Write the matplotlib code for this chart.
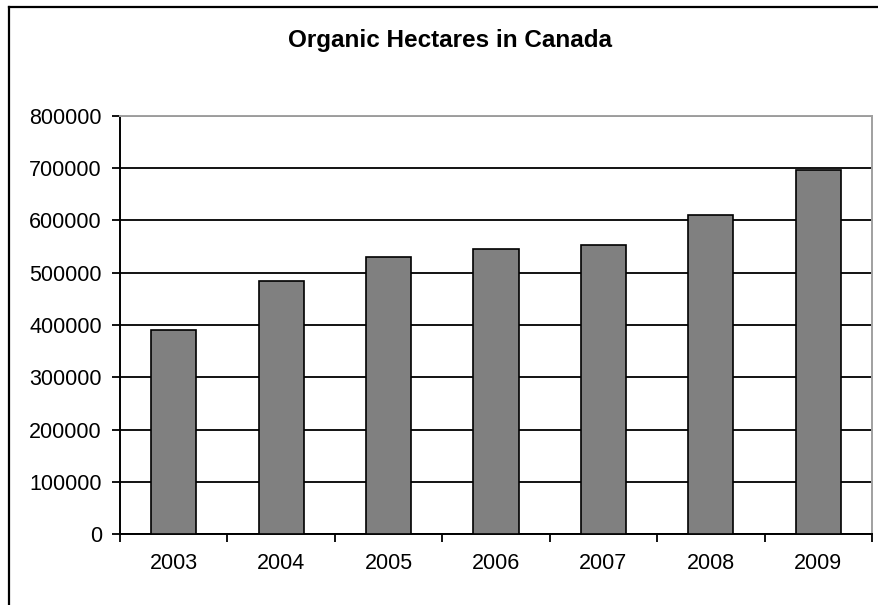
import matplotlib
matplotlib.use("Agg")
import matplotlib.pyplot as plt
from matplotlib.lines import Line2D

# === Data ===
years = ["2003", "2004", "2005", "2006", "2007", "2008", "2009"]
hectares = [391000, 485000, 531000, 546000, 553000, 611000, 696000]
y_ticks = [0, 100000, 200000, 300000, 400000, 500000, 600000, 700000, 800000]

plt.rcParams['font.family'] = ['Liberation Sans', 'DejaVu Sans']

W, H = 879, 605
fig = plt.figure(figsize=(W / 100, H / 100), dpi=100)

# chart-area frame (only left and top edges show in the image)
fig.add_artist(Line2D([8.5 / W, 8.5 / W], [0, 1 - 6.5 / H], color='black', lw=1.6,
                      transform=fig.transFigure))
fig.add_artist(Line2D([8.5 / W, 1], [1 - 6.5 / H, 1 - 6.5 / H], color='black', lw=1.6,
                      transform=fig.transFigure))

# === Plot area ===
left, right, top, bottom = 120, 872, 116, 534
ax = fig.add_axes([left / W, 1 - bottom / H, (right - left) / W, (bottom - top) / H])

x = list(range(len(years)))
ax.bar(x, hectares, width=0.42, color='#808080', edgecolor='black', linewidth=1.2, zorder=3)

ax.set_xlim(-0.5, len(years) - 0.5)
ax.set_ylim(0, 800000)

ax.set_yticks(y_ticks)
ax.set_yticklabels([str(v) for v in y_ticks], fontsize=15.5)
ax.yaxis.grid(True, color='black', linewidth=1.3, zorder=0)
ax.set_axisbelow(True)

# ticks between categories, labels centered under bars
ax.set_xticks([i - 0.5 for i in range(len(years) + 1)])
ax.set_xticklabels([])
ax.set_xticks(x, minor=True)
ax.set_xticklabels(years, minor=True, fontsize=15.5)
ax.tick_params(axis='x', which='major', direction='out', length=6, width=1.3, color='black')
ax.tick_params(axis='x', which='minor', length=0, pad=14)
ax.tick_params(axis='y', direction='out', length=6, width=1.3, pad=7)

for side in ['left', 'bottom']:
    ax.spines[side].set_color('black')
    ax.spines[side].set_linewidth(1.4)
for side in ['top', 'right']:
    ax.spines[side].set_color('#a0a0a0')
    ax.spines[side].set_linewidth(1.4)

fig.text(450 / W, 1 - 40 / H, "Organic Hectares in Canada", ha='center', va='center',
         fontsize=17.5, fontweight='bold')

fig.savefig("out.png", dpi=100)
